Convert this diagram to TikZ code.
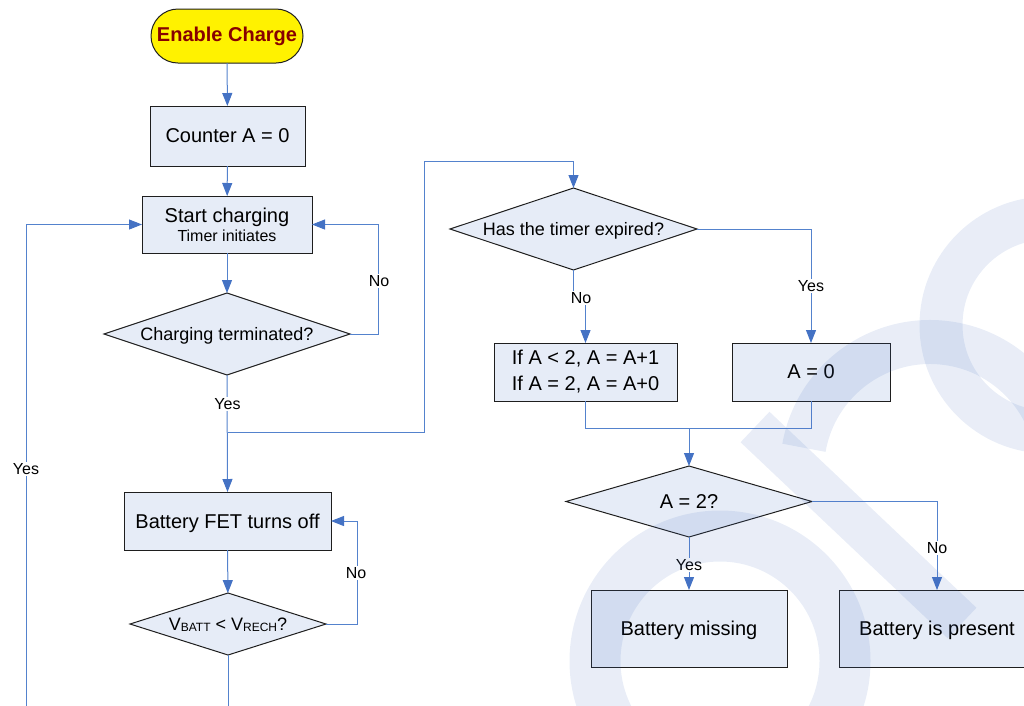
\documentclass[tikz,border=0pt]{standalone}
\usepackage{fontspec}
\setmainfont{Liberation Sans}
\usetikzlibrary{shapes.geometric,arrows.meta,calc}
\definecolor{lnblue}{RGB}{84,130,205}
\definecolor{tipblue}{RGB}{68,114,196}
\definecolor{boxfill}{RGB}{230,236,247}
\definecolor{boxline}{RGB}{30,30,30}
\definecolor{wmcol}{RGB}{70,110,190}
\definecolor{darkred}{RGB}{135,0,0}
\begin{document}
\begin{tikzpicture}[x=1pt,y=-1pt,
  box/.style={draw=boxline, fill=boxfill, line width=1pt, inner sep=0pt, outer sep=0pt,
    font=\fontsize{20}{24}\selectfont, align=center},
  sbox/.style={box, text depth=0pt},
  dec/.style={diamond, draw=boxline, fill=boxfill, line width=1pt, inner sep=0pt, outer sep=0pt,
    font=\fontsize{18}{22}\selectfont, text depth=0pt},
  link/.style={draw=lnblue, line width=1pt},
  arr/.style={link, -{Triangle[length=13pt,width=10pt,color=tipblue]}},
  lab/.style={fill=white, inner sep=1pt, font=\fontsize{16}{19}\selectfont},
]
\useasboundingbox (0,0) rectangle (1024,705);
\clip (0,0) rectangle (1024,705);

% nodes
\node[draw=boxline, fill=yellow, line width=1pt, rounded corners=27pt, minimum width=152, minimum height=54,
  inner sep=0pt, outer sep=0pt, text=darkred, font=\bfseries\fontsize{20}{24}\selectfont] (enable) at (227,36) {Enable Charge};
\node[sbox, minimum width=155, minimum height=60] (counter) at (227.5,136) {Counter A = 0};
\node[box, minimum width=170, minimum height=57] (start) at (227,224.5)
  {Start charging\\[-5pt]{\fontsize{16}{18}\selectfont Timer initiates}};
\node[dec, aspect=3, minimum width=246, minimum height=82] (term) at (227,334) {Charging terminated?};
\node[sbox, minimum width=207, minimum height=58] (fet) at (227.5,521) {Battery FET turns off};
\node[dec, aspect=3.1, minimum width=196, minimum height=62] (vbatt) at (228,624)
  {V\raisebox{-1.5pt}{\fontsize{12}{12}\selectfont BATT} {\textless} V\raisebox{-1.5pt}{\fontsize{12}{12}\selectfont RECH}?};
\node[dec, aspect=3, minimum width=247, minimum height=82] (timer) at (573.5,229) {Has the timer expired?};
\node[box, minimum width=183, minimum height=58, align=left, font=\fontsize{20}{26}\selectfont] (ifbox) at (585.5,372)
  {If A {\textless} 2, A = A+1\\If A = 2, A = A+0};
\node[sbox, minimum width=158, minimum height=58] (azero) at (811,372) {A = 0};
\node[dec, aspect=3.4, minimum width=246, minimum height=71, font=\fontsize{20}{24}\selectfont] (atwo) at (689,501.5) {A = 2?};
\node[sbox, minimum width=196, minimum height=77] (missing) at (689,628.5) {Battery missing};
\node[sbox, minimum width=196, minimum height=77] (present) at (937,628.5) {Battery is present};

% coordinates
\coordinate (br) at (227.5,432);
\coordinate (vbend) at (228,712);
\coordinate (yesbot) at (26,712);
\coordinate (merge) at (689,428);

% connectors
\draw[arr] (enable) -- (counter);
\draw[arr] (counter) -- (start);
\draw[arr] (start) -- (term);
\draw[arr] (term.east) -- ++(28,0) |- (start.east);
\node[lab] (no1) at (379,281) {No};
\draw[arr] (term.south) -- (fet.north);
\node[lab] (yes1) at (227.5,404) {Yes};
\draw[arr] (br) -- ++(197,0) |- ($(timer.north)+(0,-27)$) -- (timer.north);
\draw[arr] (fet) -- (vbatt);
\draw[arr] (vbatt.east) -- ++(31,0) |- (fet.east);
\node[lab] (no2) at (356,573) {No};
\draw[link] (vbatt.south) -- (vbend);
\draw[arr] (yesbot) |- (start.west);
\node[lab] (yes2) at (26,469) {Yes};
\draw[arr] (timer.south) -- ++(0,28) -| (ifbox.north);
\node[lab] (no3) at (581,298) {No};
\draw[arr] (timer.east) -| (azero.north);
\node[lab] (yes3) at (811,286) {Yes};
\draw[link] (ifbox.south) |- (merge) -| (azero.south);
\draw[arr] (merge) -- (atwo.north);
\draw[arr] (atwo.south) -- (missing.north);
\node[lab] (yes4) at (689,565) {Yes};
\draw[arr] (atwo.east) -| (present.north);
\node[lab] (no4) at (937,548) {No};

% faint watermark
\begin{scope}[x=1pt,y=1pt,draw=wmcol,draw opacity=0.12]
  \draw[line width=51pt] (720,-661) circle[radius=125];
  \draw[line width=42pt] (755,-427) -- (962,-623);
  \draw[line width=44pt] ([shift={(170:128)}]930,-470) arc[start angle=170,end angle=-5,radius=128];
  \draw[line width=43pt] (1048,-325) circle[radius=107];
\end{scope}
\end{tikzpicture}
\end{document}
